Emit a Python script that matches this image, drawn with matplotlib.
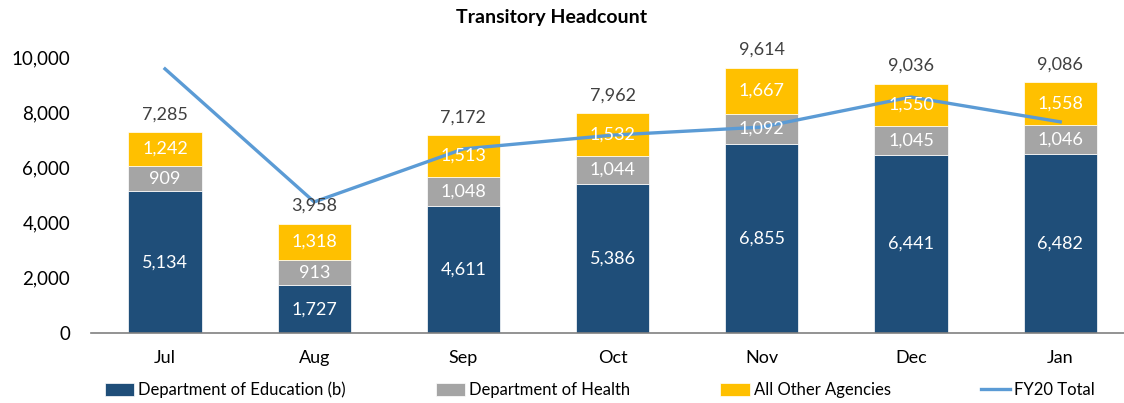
import matplotlib
matplotlib.use("Agg")
import matplotlib.pyplot as plt
import numpy as np

plt.rcParams['font.family'] = ['Lato', 'DejaVu Sans']

months = ["Jul", "Aug", "Sep", "Oct", "Nov", "Dec", "Jan"]
education = [5134, 1727, 4611, 5386, 6855, 6441, 6482]
health = [909, 913, 1048, 1044, 1092, 1045, 1046]
other = [1242, 1318, 1513, 1532, 1667, 1550, 1558]
totals = [7285, 3958, 7172, 7962, 9614, 9036, 9086]
fy20_total = [9570, 4750, 6670, 7170, 7460, 8550, 7650]

navy = "#1F4E79"
grey = "#A5A5A5"
gold = "#FFC000"
blue_line = "#5B9BD5"

fig = plt.figure(figsize=(11.24, 4.03), dpi=100)
ax = fig.add_axes([91 / 1124, 1 - 333 / 403, 1 - 91 / 1124, (333 - 57) / 403])

x = np.arange(len(months))
w = 0.49
edu = np.array(education)
hea = np.array(health)
oth = np.array(other)

b1 = ax.bar(x, edu, w, color=navy, edgecolor="white", linewidth=0.5,
            label="Department of Education (b)")
b2 = ax.bar(x, hea, w, bottom=edu, color=grey, edgecolor="white", linewidth=0.5,
            label="Department of Health")
b3 = ax.bar(x, oth, w, bottom=edu + hea, color=gold, edgecolor="white", linewidth=0.5,
            label="All Other Agencies")
ln, = ax.plot(x, fy20_total, color=blue_line, lw=2.4, label="FY20 Total", zorder=3)

# segment labels
for vals, bottoms in [(edu, np.zeros(len(x))), (hea, edu), (oth, edu + hea)]:
    for xi, v, b in zip(x, vals, bottoms):
        ax.text(xi, b + v / 2, f"{v:,}", ha="center", va="center",
                color="white", fontsize=13, zorder=4)

for xi, t in zip(x, totals):
    ax.annotate(f"{t:,}", (xi, t), xytext=(0, 7), textcoords="offset points",
                ha="center", va="bottom", color="#404040", fontsize=13,
                annotation_clip=False)

ax.set_xlim(-0.496, (1124 - 165) / 149.2)
ax.set_ylim(0, 10000)
ax.set_yticks(range(0, 10001, 2000))
ax.set_yticklabels([f"{v:,}" for v in range(0, 10001, 2000)], fontsize=13.5)
ax.set_xticks(x)
ax.set_xticklabels(months, fontsize=13)
ax.tick_params(length=0, pad=12)
ax.tick_params(axis="y", pad=15)
for s in ["top", "right", "left"]:
    ax.spines[s].set_visible(False)
ax.spines["bottom"].set_color("#808080")
ax.spines["bottom"].set_linewidth(1.2)

fig.text(0.491, 1 - 18 / 403, "Transitory Headcount", ha="center", va="center",
         fontsize=14, fontweight="bold")

fig.legend(handles=[b1, b2, b3, ln], loc="center", bbox_to_anchor=(600 / 1124, 1 - 390 / 403),
           ncol=4, frameon=False, fontsize=12, handlelength=1.75, handleheight=0.9,
           handletextpad=0.25, columnspacing=5.4)

fig.savefig("out.png", dpi=100)
